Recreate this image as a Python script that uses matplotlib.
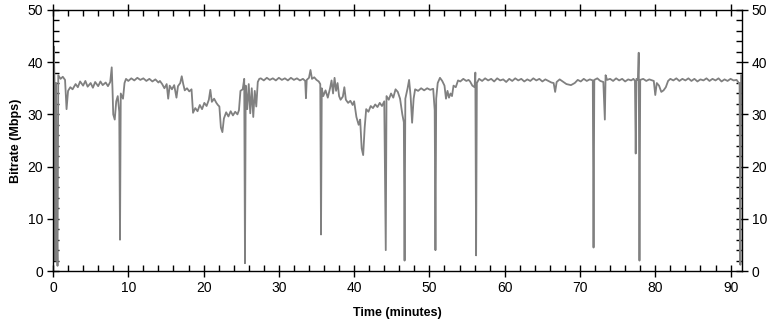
import matplotlib.pyplot as plt
from matplotlib.ticker import MultipleLocator

plt.rcParams['font.family'] = ['Liberation Sans', 'DejaVu Sans']

# bitrate trace (minutes, Mbps)
time_min = [
    0.0, 0.1, 0.2, 0.3, 0.4, 0.5, 0.6, 0.7, 1.0, 1.3, 1.6, 1.8, 2.0, 2.3, 2.6,
    3.0, 3.3, 3.6, 4.0, 4.3, 4.6, 5.0, 5.3, 5.6, 6.0, 6.3, 6.6, 7.0, 7.3, 7.6,
    7.8, 7.9, 8.0, 8.2, 8.4, 8.6, 8.8, 8.9, 9.0, 9.3, 9.5, 9.7,
    10.0, 10.4, 10.8, 11.2, 11.6, 12.0, 12.4, 12.8, 13.2, 13.6, 14.0, 14.2,
    14.5, 14.8, 15.1, 15.3, 15.5, 15.8, 16.1, 16.4, 16.6, 16.9, 17.1, 17.3,
    17.5, 17.8, 18.1, 18.4, 18.6, 18.9, 19.2, 19.5, 19.8, 20.1, 20.4, 20.7,
    20.9, 21.1, 21.4, 21.7, 21.9, 22.1, 22.3, 22.5, 22.7, 23.0, 23.3, 23.6,
    23.9, 24.2, 24.5, 24.7, 24.9, 25.2, 25.4, 25.5, 25.6, 25.8, 26.0, 26.2,
    26.4, 26.6, 26.8, 27.0, 27.2, 27.4,
    27.6, 28.0, 28.4, 28.8, 29.2, 29.6, 30.0, 30.4, 30.8, 31.2, 31.6, 32.0,
    32.4, 32.8, 33.2, 33.5, 33.6, 33.7, 34.0, 34.2, 34.4, 34.7, 35.0, 35.3,
    35.5, 35.6, 35.7, 35.9, 36.2, 36.5, 36.8, 37.0, 37.2, 37.4, 37.6, 37.8,
    38.0, 38.2, 38.5, 38.7, 38.9, 39.2, 39.5, 39.8, 40.0, 40.3, 40.6, 40.8,
    41.0, 41.2, 41.4, 41.6, 41.9, 42.2, 42.5, 42.8, 43.1, 43.4, 43.7, 44.0,
    44.2, 44.3, 44.6, 44.9, 45.2, 45.5, 45.8, 46.1, 46.4, 46.6, 46.7, 46.8,
    47.1, 47.3, 47.5, 47.7, 47.9, 48.1, 48.5, 48.9, 49.3, 49.7, 50.1, 50.5,
    50.7, 50.8, 50.9, 51.1, 51.4, 51.7, 52.0, 52.2, 52.4, 52.6, 52.8, 53.0,
    53.2, 53.5, 53.8, 54.1, 54.5, 54.9, 55.2, 55.4, 55.7, 56.0, 56.1, 56.2,
    56.3, 56.6, 57.0, 57.4, 57.8, 58.2, 58.6, 59.0, 59.4, 59.8, 60.2, 60.6,
    61.0, 61.4, 61.8, 62.2, 62.6, 63.0, 63.4, 63.8, 64.2, 64.6, 65.0, 65.4,
    65.8, 66.2, 66.5, 66.7, 66.9, 67.3, 67.7, 68.2, 68.8, 69.3, 69.7, 70.1,
    70.5, 70.9, 71.3, 71.7, 71.8, 71.9, 72.3, 72.7, 73.1, 73.3, 73.4, 73.6,
    74.0, 74.4, 74.8, 75.2, 75.6, 76.0, 76.4, 76.8, 77.1, 77.3, 77.4, 77.5,
    77.7, 77.8, 77.9, 78.0, 78.4, 78.8, 79.2, 79.6, 79.8, 80.0, 80.2, 80.5,
    80.8, 81.1, 81.4, 81.7, 82.0, 82.4, 82.8, 83.2, 83.6, 84.0, 84.4, 84.8,
    85.2, 85.6, 86.0, 86.4, 86.8, 87.2, 87.6, 88.0, 88.4, 88.8, 89.2, 89.6,
    90.0, 90.4, 90.8, 91.1, 91.2, 91.3, 91.4,
]
bitrate_mbps = [
    37.0, 43.0, 36.5, 2.0, 36.0, 9.0, 1.0, 37.5, 36.8, 37.2, 36.6, 31.0, 34.5, 35.2, 34.8,
    35.8, 35.2, 36.3, 35.5, 36.4, 35.3, 36.0, 35.1, 36.2, 35.4, 36.3, 35.6, 36.1, 35.4, 36.2,
    39.0, 35.0, 30.0, 29.0, 32.5, 33.5, 30.5, 6.0, 34.0, 33.0, 36.0, 36.8,
    36.4, 36.9, 36.5, 37.0, 36.6, 36.9, 36.4, 36.8, 36.3, 36.7, 36.1, 36.4,
    35.8, 35.0, 35.8, 33.0, 35.5, 34.8, 35.6, 33.2, 35.4, 36.0, 37.3, 35.8,
    34.6, 35.0, 34.4, 34.8, 30.3, 31.2, 30.6, 31.8, 31.0, 32.2, 31.6, 32.8,
    34.7, 32.4, 33.0, 32.2, 31.8, 31.5, 27.5, 26.6, 29.2, 30.4, 29.6, 30.6,
    29.8, 30.5, 30.0, 30.8, 34.5, 34.8, 36.8, 1.5, 35.5, 31.0, 35.8, 30.2,
    35.0, 29.5, 34.5, 31.5, 36.2, 36.8,
    36.9, 36.5, 37.0, 36.6, 36.9, 36.5, 37.0, 36.6, 36.9, 36.5, 37.0, 36.6,
    36.9, 36.5, 36.8, 36.4, 33.1, 36.6, 37.0, 38.5, 36.8, 37.1, 36.6, 36.3,
    35.8, 7.0, 35.0, 33.5, 34.6, 33.2, 35.0, 36.5, 34.0, 37.0, 34.5, 36.0,
    33.5, 32.8, 33.4, 35.2, 32.8, 32.2, 32.6, 31.8, 32.5, 29.5, 28.0, 29.0,
    23.5, 22.2, 27.5, 31.0, 30.5, 31.6, 31.2, 31.9, 31.4, 32.2, 31.6, 32.5,
    4.0, 33.5, 32.8, 34.0, 33.2, 34.8, 34.3, 33.0, 30.0, 28.5, 2.0, 33.0,
    35.0, 36.6, 33.5, 28.4, 33.0, 34.8, 34.5, 35.0, 34.6, 35.0, 34.7, 34.9,
    30.8, 4.0, 33.0, 36.0, 37.0, 36.4, 35.5, 33.0, 34.5, 33.2, 34.0, 33.5,
    35.5, 35.2, 36.5, 36.3, 36.8, 36.4, 36.6, 36.3, 35.5, 35.2, 38.0, 3.0,
    36.0, 36.8, 36.4, 36.9, 36.5, 36.8, 36.3, 36.9, 36.5, 36.7, 36.2, 36.8,
    36.4, 36.9, 36.5, 36.8, 36.3, 36.7, 36.4, 36.9, 36.5, 36.8, 36.3, 36.7,
    36.4, 36.1, 36.0, 34.3, 36.2, 36.7, 36.3, 35.8, 35.6, 36.0, 36.6, 36.3,
    36.8, 36.4, 36.7, 36.5, 4.5, 36.6, 36.9, 36.4, 36.2, 29.0, 37.5, 36.6,
    36.8, 36.4, 36.9, 36.5, 36.8, 36.3, 36.7, 36.5, 36.8, 36.4, 22.5, 36.8,
    36.6, 41.8, 2.0, 36.6, 36.8, 36.4, 36.7, 36.5, 36.4, 33.7, 36.0, 35.5,
    34.3, 34.6, 35.2, 36.4, 36.8, 36.5, 36.9, 36.4, 36.8, 36.5, 36.9, 36.4,
    36.8, 36.3, 36.7, 36.5, 36.9, 36.4, 36.8, 36.5, 36.9, 36.3, 36.7, 36.4,
    36.8, 36.5, 36.6, 36.0, 36.0, 1.2, 37.5,
]

fig = plt.figure(figsize=(7.76, 3.2), dpi=100)
ax = fig.add_axes([0.0683, 0.153, 0.8877, 0.816])

ax.plot(time_min, bitrate_mbps, color='#808080', linewidth=1.3)

ax.set_xlim(0, 91.5)
ax.set_ylim(0, 50)
ax.xaxis.set_major_locator(MultipleLocator(10))
ax.xaxis.set_minor_locator(MultipleLocator(2))
ax.yaxis.set_major_locator(MultipleLocator(10))
ax.yaxis.set_minor_locator(MultipleLocator(2))

ax.tick_params(which='major', direction='inout', length=8, width=1,
               top=True, right=True, labelright=True, labelsize=10, pad=3)
ax.tick_params(which='minor', direction='in', length=4, width=1,
               top=True, right=True)
for s in ax.spines.values():
    s.set_linewidth(1.0)

ax.set_xlabel('Time (minutes)', fontsize=9, fontweight='bold', labelpad=9)
ax.set_ylabel('Bitrate (Mbps)', fontsize=9, fontweight='bold', labelpad=4)

fig.savefig('out.png', dpi=100)
